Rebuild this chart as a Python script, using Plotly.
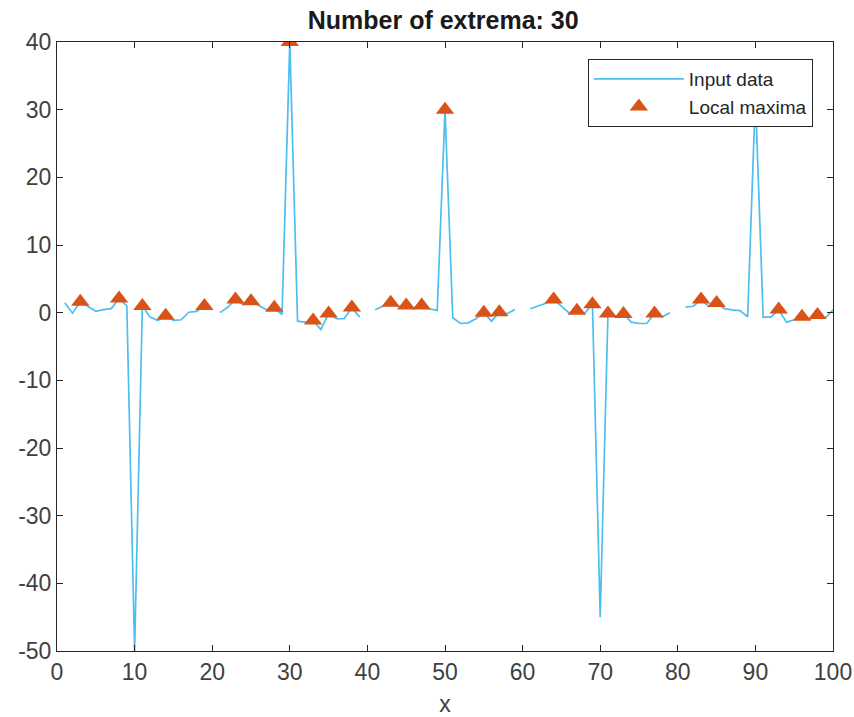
import numpy as np
import plotly.graph_objects as go

x_values = list(range(1, 101))
y_values = [
    1.46, -0.07, 1.6, 0.9, 0.2, 0.45, 0.6, 2.1, 1.0, -50,
    1.0, -0.66, -1.15, -0.46, -1.15, -1.05, 0.07, 0.2, 1.0, None,
    0.0, 0.8, 1.95, 1.2, 1.7, 1.1, 0.42, 0.72, -0.27, 40,
    -1.25, -1.4, -1.15, -2.5, -0.12, -0.9, -0.9, 0.77, -0.66, None,
    0.42, 0.9, 1.46, 0.9, 1.07, 0.7, 1.07, 0.57, 0.33, 30,
    -0.75, -1.6, -1.5, -0.9, 0.0, -1.25, 0.05, -0.15, 0.45, None,
    0.57, 1.0, 1.4, 1.95, 1.0, -0.05, 0.27, -0.1, 1.26, -45,
    -0.12, -0.5, -0.2, -1.4, -1.6, -1.6, -0.12, -0.6, 0.0, None,
    0.81, 0.95, 1.93, 0.9, 1.44, 0.6, 0.4, 0.3, -0.6, 32,
    -0.66, -0.66, 0.45, -1.4, -1.05, -0.6, -1.0, -0.35, -0.8, 0.42,
]
maxima_x = [3, 8, 11, 14, 19, 23, 25, 28, 30, 33, 35, 38, 43, 45, 47, 50,
            55, 57, 64, 67, 69, 71, 73, 77, 83, 85, 90, 93, 96, 98]
maxima_y = [y_values[x_values.index(v)] for v in maxima_x]

title_text = "Number of extrema: 30"
x_ticks = list(range(0, 101, 10))
y_ticks = list(range(-50, 41, 10))
x_ticklabels = [str(v) for v in x_ticks]
y_ticklabels = [str(v) for v in y_ticks]

fig = go.Figure()
fig.add_trace(go.Scatter(
    x=x_values, y=y_values, mode="lines", name="Input data",
    line=dict(color="#4DBEEE", width=1.7), connectgaps=False,
))
fig.add_trace(go.Scatter(
    x=maxima_x, y=maxima_y, mode="markers", name="Local maxima",
    marker=dict(symbol="triangle-up", color="#D95319", size=16,
                line=dict(width=0)),
))

axis_common = dict(
    showgrid=False, zeroline=False, showline=True, linecolor="#262626",
    linewidth=1, mirror="ticks", ticks="inside", ticklen=6,
    tickcolor="#262626", tickfont=dict(size=23, color="#404040"),
    automargin=False,
)
fig.update_xaxes(range=[0, 100], tickvals=x_ticks, ticktext=x_ticklabels,
                 title=dict(text="x", font=dict(size=23, color="#404040"), standoff=12),
                 **axis_common)
fig.update_yaxes(range=[-50, 40], tickvals=y_ticks, ticktext=y_ticklabels,
                 **axis_common)

fig.update_layout(
    width=854, height=717,
    margin=dict(l=57, r=21, t=42, b=66, autoexpand=False),
    paper_bgcolor="white", plot_bgcolor="white",
    font=dict(family="Liberation Sans, Arial, sans-serif", color="#262626"),
    title=dict(text="<b>" + title_text + "</b>", x=0.519, xanchor="center",
               y=0.984, yanchor="top", font=dict(size=25, color="#1a1a1a")),
    showlegend=True,
    legend=dict(x=0.974, y=0.972, xanchor="right", yanchor="top",
                bgcolor="white", bordercolor="#262626", borderwidth=1,
                font=dict(size=19, color="#262626"), itemwidth=90,
                tracegroupgap=0),
)

fig.write_html("out.html", config={"displayModeBar": False},
               post_script="document.body.style.margin='0';document.body.style.overflow='hidden';")
